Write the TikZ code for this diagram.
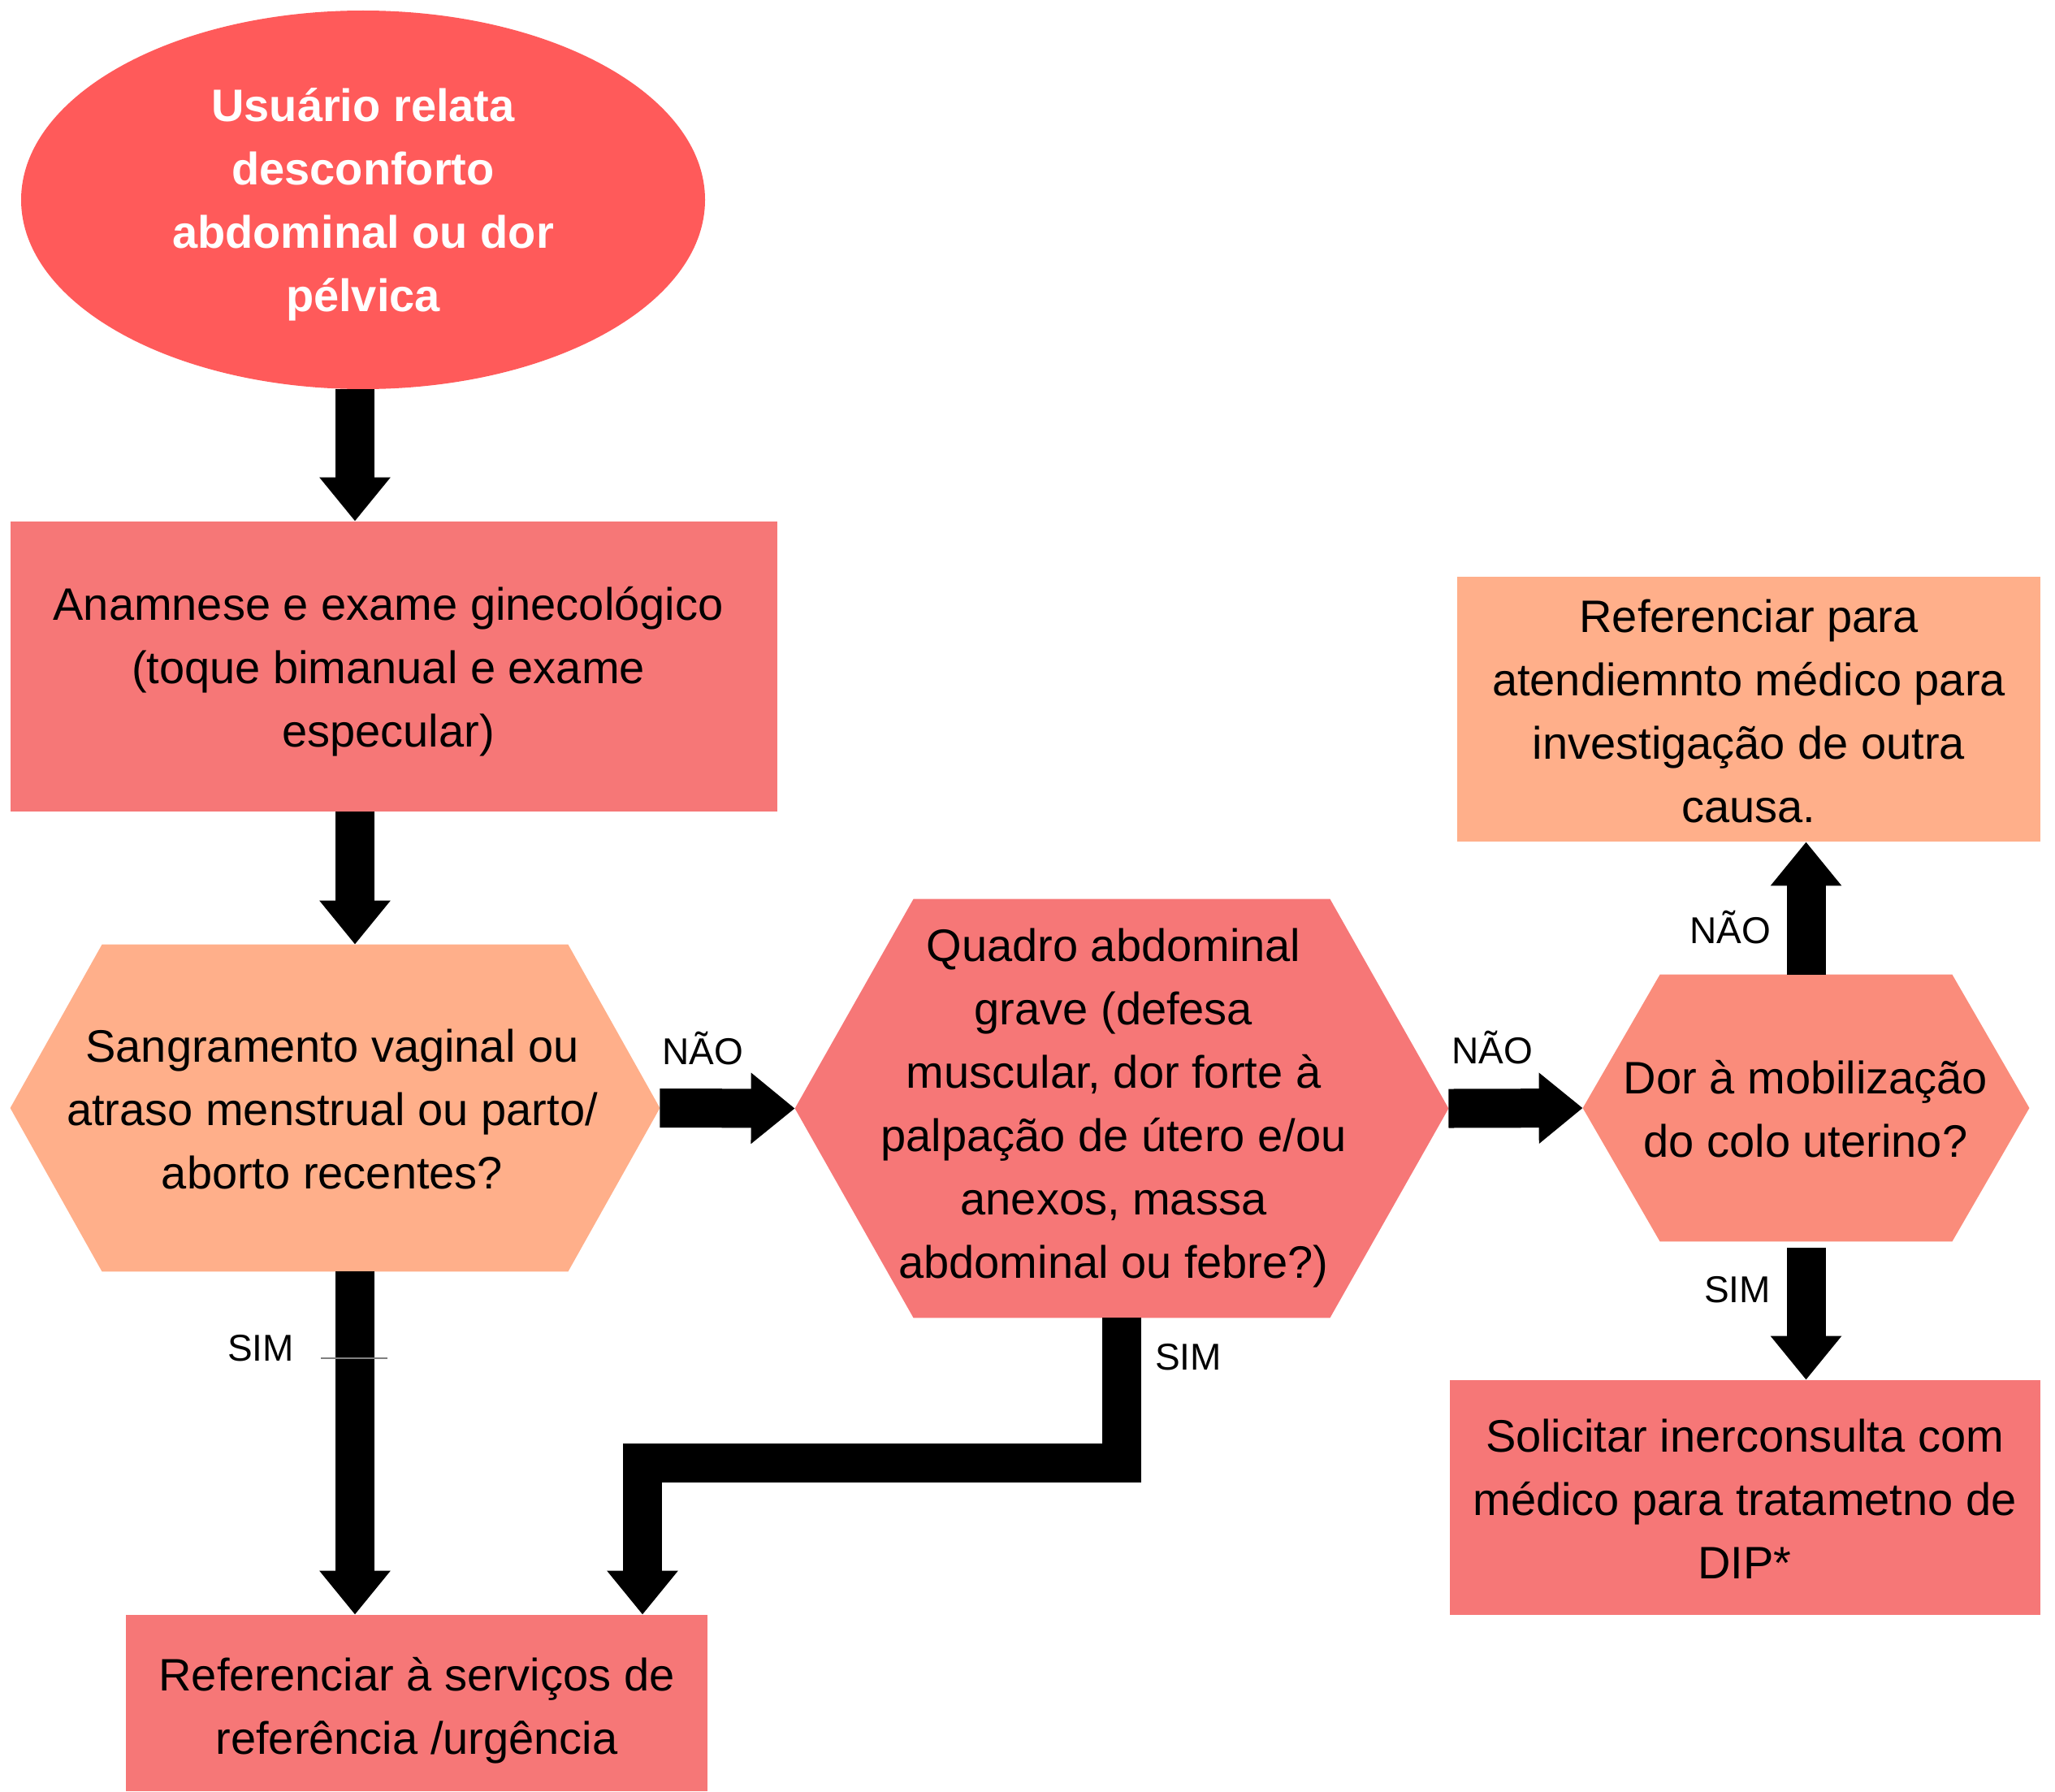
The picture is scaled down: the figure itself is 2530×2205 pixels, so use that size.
\documentclass[tikz,border=0pt]{standalone}
\usepackage{fontspec}
\setmainfont{Liberation Sans}
\usetikzlibrary{arrows.meta,calc,shapes.geometric,backgrounds}

\definecolor{startred}{HTML}{FF5A5A}
\definecolor{boxpink}{HTML}{F67777}
\definecolor{peach}{HTML}{FFAF8A}
\definecolor{salmon}{HTML}{FA8C7B}

% hexagon drawn behind a named rectangular node; #2 = horizontal inset of the top/bottom edges
\newcommand\hexbg[3]{%
  \begin{pgfonlayer}{background}
    \fill[#3] (#1.west) -- ($(#1.north west)+(#2,0)$) -- ($(#1.north east)+(-#2,0)$)
      -- (#1.east) -- ($(#1.south east)+(-#2,0)$) -- ($(#1.south west)+(#2,0)$) -- cycle;
  \end{pgfonlayer}}

\tikzset{
  body/.style={font=\fontsize{28}{39}\selectfont, align=center, text=black, inner sep=0pt},
  block/.style={rectangle, inner sep=0pt},
  lbl/.style={font=\fontsize{23}{27}\selectfont, anchor=base, inner sep=0pt},
  flow/.style={line width=24pt, line join=miter, draw=black,
    -{Triangle[width=42pt,length=27pt]}},
}

\begin{document}
\begin{tikzpicture}[x=0.5pt,y=-0.5pt]
  \useasboundingbox (0,0) rectangle (2530,2205);

  % start
  \node[ellipse, fill=startred, minimum width=421pt, minimum height=233pt, inner sep=0pt]
    (start) at (447,246) {};
  \node[body, text=white, font=\bfseries\fontsize{28}{39}\selectfont]
    (start-txt) at (447,252) {Usuário relata\\desconforto\\abdominal ou dor\\pélvica};

  % process boxes
  \node[block, fill=boxpink, minimum width=472pt, minimum height=178.5pt] (anam) at (485,820.5) {};
  \node[body] (anam-txt) at (478,827) {Anamnese e exame ginecológico\\(toque bimanual e exame\\especular)};

  \node[block, fill=peach, minimum width=359pt, minimum height=163pt] (other) at (2153,873) {};
  \node[body] (other-txt) at (2153,875) {Referenciar para\\atendiemnto médico para\\investigação de outra\\causa.};

  \node[block, fill=boxpink, minimum width=363.5pt, minimum height=144.5pt] (dip) at (2148.5,1843.5) {};
  \node[body] (dip-txt) at (2148,1845) {Solicitar inerconsulta com\\médico para tratametno de\\DIP*};

  \node[block, fill=boxpink, minimum width=358pt, minimum height=108.5pt] (urg) at (513,2096.5) {};
  \node[body] (urg-txt) at (513,2106) {Referenciar à serviços de\\referência /urgência};

  % decisions
  \node[block, minimum width=399.5pt, minimum height=201pt] (bleed) at (412.5,1364) {};
  \hexbg{bleed}{113}{peach}
  \node[body] (bleed-txt) at (409,1365) {Sangramento vaginal ou\\atraso menstrual ou parto/\\aborto recentes?};

  \node[block, minimum width=402pt, minimum height=257.5pt] (acute) at (1381,1364.5) {};
  \hexbg{acute}{146}{boxpink}
  \node[body] (acute-txt) at (1371,1364) {Quadro abdominal\\grave (defesa\\muscular, dor forte à\\palpação de útero e/ou\\anexos, massa\\abdominal ou febre?)};

  \node[block, minimum width=274.5pt, minimum height=164pt] (cervix) at (2223.5,1364) {};
  \hexbg{cervix}{95}{salmon}
  \node[body] (cervix-txt) at (2223,1365) {Dor à mobilização\\do colo uterino?};

  % connectors
  \coordinate (xL) at (437,0);
  \coordinate (bend) at (791,1801);
  \draw[flow] (xL |- start.south) -- (xL |- anam.north);
  \draw[flow] (xL |- anam.south) -- (xL |- bleed.north);
  \draw[flow] (xL |- bleed.south) -- (xL |- urg.north);
  \draw[flow] (bleed.east) -- (acute.west);
  \draw[flow] (acute.east) -- (cervix.west);
  \draw[flow] (acute.south) |- (bend) -- (bend |- urg.north);
  \draw[flow] (cervix.north) -- (cervix.north |- other.south);
  \draw[flow] ([yshift=-4pt]cervix.south) -- (cervix.south |- dip.north);
  \draw[gray, line width=0.6pt] (395,1672) -- (477,1672);

  % branch labels
  \node[lbl] (simA) at (321,1675) {SIM};
  \node[lbl] (naoA) at (865,1310) {NÃO};
  \node[lbl] (simB) at (1463,1686) {SIM};
  \node[lbl] (naoB) at (1837,1309) {NÃO};
  \node[lbl] (naoC) at (2130,1161) {NÃO};
  \node[lbl] (simC) at (2139,1603) {SIM};
\end{tikzpicture}
\end{document}
